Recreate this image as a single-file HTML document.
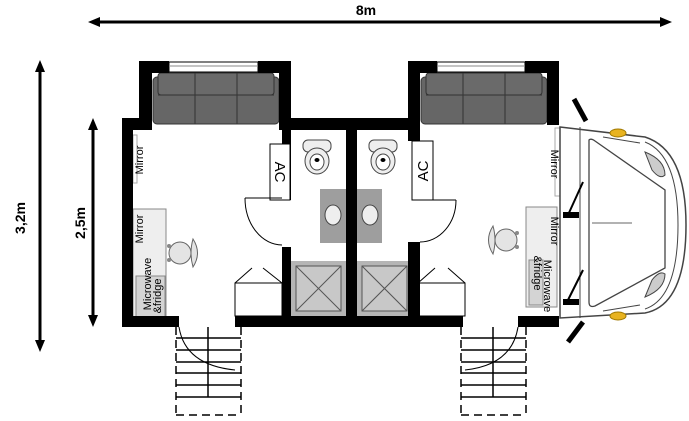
<!DOCTYPE html>
<html><head><meta charset="utf-8"><style>
html,body{margin:0;padding:0;background:#fff;}
svg{display:block;font-family:"Liberation Sans",Arial,sans-serif;}
</style></head><body>
<svg width="689" height="421" viewBox="0 0 689 421" xmlns="http://www.w3.org/2000/svg">
<defs>
<g id="sofa">
<rect x="0" y="4" width="126" height="47" rx="4" fill="#666" stroke="#333" stroke-width="1"/>
<rect x="5" y="0" width="116" height="22" rx="3" fill="#6a6a6a" stroke="#333"/>
<line x1="42" y1="0" x2="42" y2="51" stroke="#333"/><line x1="84" y1="0" x2="84" y2="51" stroke="#333"/>
<line x1="5" y1="22" x2="121" y2="22" stroke="#333"/>
</g>
<g id="toilet">
<rect x="-14" y="-17" width="28" height="12" rx="5" fill="#eee" stroke="#444"/>
<ellipse cx="0" cy="4" rx="12" ry="13" fill="#eee" stroke="#444"/>
<ellipse cx="0" cy="5" rx="7" ry="8" fill="#fff" stroke="#444"/>
<ellipse cx="0" cy="3" rx="2.5" ry="2" fill="#000"/>
</g>
<g id="shower">
<rect x="0" y="0" width="55" height="55" fill="#b5b5b5"/>
<rect x="5" y="5" width="45" height="45" fill="#c8c8c8" stroke="#555"/>
<line x1="5" y1="5" x2="50" y2="50" stroke="#555"/><line x1="50" y1="5" x2="5" y2="50" stroke="#555"/>
</g>
<g id="stairs" stroke="#000" stroke-width="1.5" fill="none">
<line x1="0" y1="11" x2="65" y2="11"/><line x1="0" y1="23" x2="65" y2="23"/>
<line x1="0" y1="35" x2="65" y2="35"/><line x1="0" y1="46" x2="65" y2="46"/>
<line x1="0" y1="58" x2="65" y2="58"/><line x1="0" y1="70" x2="65" y2="70"/>
<line x1="32" y1="0" x2="32" y2="70"/>
<line x1="0" y1="0" x2="0" y2="88" stroke-dasharray="8,5"/>
<line x1="65" y1="0" x2="65" y2="88" stroke-dasharray="8,5"/>
<line x1="0" y1="88" x2="65" y2="88" stroke-dasharray="8,5"/>
</g>
<g id="chair">
<circle cx="0" cy="0" r="11" fill="#e4e4e4" stroke="#666"/>
<path d="M13,-14 Q22,0 13,14 Q9,0 13,-14 Z" fill="#e4e4e4" stroke="#666"/>
<circle cx="-11" cy="-7" r="2" fill="#888"/><circle cx="-11" cy="7" r="2" fill="#888"/>
</g>
</defs>

<line x1="96" y1="22" x2="664" y2="22" stroke="#000" stroke-width="3"/>
<path d="M88,22 L100,17 L100,27Z M672,22 L660,17 L660,27Z" fill="#000"/>
<text x="366" y="15" font-size="14" font-weight="bold" text-anchor="middle">8m</text>
<line x1="40" y1="68" x2="40" y2="344" stroke="#000" stroke-width="3"/>
<path d="M40,60 L35,72 L45,72Z M40,352 L35,340 L45,340Z" fill="#000"/>
<text transform="translate(25,218) rotate(-90)" font-size="14" font-weight="bold" text-anchor="middle">3,2m</text>
<line x1="93" y1="126" x2="93" y2="319" stroke="#000" stroke-width="3"/>
<path d="M93,118 L88,130 L98,130Z M93,327 L88,315 L98,315Z" fill="#000"/>
<text transform="translate(85,223) rotate(-90)" font-size="14" font-weight="bold" text-anchor="middle">2,5m</text>

<rect x="133" y="209" width="33" height="109" fill="#eeeeee" stroke="#888"/>
<rect x="136" y="276" width="29" height="41" fill="#d4d4d4" stroke="#888"/>
<rect x="133" y="135" width="4" height="48" fill="#fff" stroke="#aaa"/>
<text transform="translate(143,160) rotate(-90)" font-size="11" text-anchor="middle">Mirror</text>
<text transform="translate(143,229) rotate(-90)" font-size="11" text-anchor="middle">Mirror</text>
<text transform="translate(151,284) rotate(-90)" font-size="11" text-anchor="middle">Microwave</text>
<text transform="translate(161,296) rotate(-90)" font-size="11" text-anchor="middle">&amp;fridge</text>
<use href="#chair" x="180" y="253"/>
<use href="#sofa" x="153" y="73"/>

<rect x="526" y="207" width="31" height="100" fill="#eeeeee" stroke="#888"/>
<rect x="529" y="260" width="14" height="45" fill="#d4d4d4" stroke="#888"/>
<rect x="555" y="128" width="5" height="68" fill="#fff" stroke="#aaa"/>
<text transform="translate(551,164) rotate(90)" font-size="11" text-anchor="middle">Mirror</text>
<text transform="translate(551,231) rotate(90)" font-size="11" text-anchor="middle">Mirror</text>
<text transform="translate(544,286) rotate(90)" font-size="11" text-anchor="middle">Microwave</text>
<text transform="translate(534,273) rotate(90)" font-size="11" text-anchor="middle">&amp;fridge</text>
<use href="#chair" transform="translate(506,240) scale(-1,1)"/>
<use href="#sofa" x="421" y="73"/>

<use href="#toilet" x="317" y="157"/>
<use href="#toilet" x="383" y="157"/>
<rect x="320" y="189" width="26" height="54" fill="#9e9e9e"/>
<rect x="357" y="189" width="25" height="54" fill="#9e9e9e"/>
<ellipse cx="333" cy="215" rx="8" ry="10" fill="#eee" stroke="#444"/>
<ellipse cx="370" cy="215" rx="8" ry="10" fill="#eee" stroke="#444"/>
<use href="#shower" x="291" y="261"/>
<use href="#shower" x="357" y="261"/>

<g fill="#000">
<rect x="122" y="118" width="30" height="12"/>
<rect x="122" y="118" width="11" height="209"/>
<rect x="139" y="61" width="13" height="69"/>
<rect x="139" y="61" width="30" height="12"/>
<rect x="258" y="61" width="33" height="12"/>
<rect x="279" y="61" width="12" height="69"/>
<rect x="279" y="118" width="141" height="12"/>
<rect x="122" y="316" width="57" height="11"/>
<rect x="235" y="316" width="228" height="11"/>
<rect x="518" y="316" width="41" height="11"/>
<rect x="282" y="118" width="9" height="82"/>
<rect x="282" y="247" width="9" height="80"/>
<rect x="346" y="118" width="11" height="209"/>
<rect x="408" y="61" width="12" height="80"/>
<rect x="408" y="242" width="12" height="85"/>
<rect x="408" y="61" width="29" height="12"/>
<rect x="525" y="61" width="34" height="12"/>
<rect x="547" y="61" width="12" height="64"/>
</g>
<rect x="169" y="62" width="89" height="10" fill="#fff" stroke="#000"/>
<line x1="169" y1="66" x2="258" y2="66" stroke="#888"/>
<rect x="437" y="62" width="88" height="10" fill="#fff" stroke="#000"/>
<line x1="437" y1="66" x2="525" y2="66" stroke="#888"/>

<rect x="270" y="144" width="20" height="56" fill="#fff" stroke="#000"/>
<text transform="translate(275,172) rotate(90)" font-size="15" text-anchor="middle">AC</text>
<rect x="412" y="141" width="21" height="59" fill="#fff" stroke="#000"/>
<text transform="translate(428,171) rotate(-90)" font-size="15" text-anchor="middle">AC</text>

<g fill="none" stroke="#000" stroke-width="1">
<path d="M245,198 L282,198 M245,198 A37,47 0 0 0 282,245"/>
<path d="M456,200 L420,200 M456,200 A36,42 0 0 1 420,242"/>
<path d="M235,283 L282,283 L282,316 L235,316 Z M235,283 L252,268 M282,283 L263,268"/>
<path d="M418,283 L465,283 L465,316 L418,316 Z M418,283 L435,268 M465,283 L448,268"/>
<path d="M179,327 Q185,365 235,370"/>
<path d="M518,327 Q512,365 465,370"/>
</g>
<use href="#stairs" x="176" y="327"/>
<use href="#stairs" x="461" y="327"/>

<rect x="562" y="136" width="16" height="74" fill="#999" stroke="#666"/>
<rect x="562" y="228" width="16" height="78" fill="#999" stroke="#666"/>
<path d="M560,127 L645,137 Q686,150 686,225 Q686,305 645,313 L560,318 Z" fill="#fff" stroke="#444" stroke-width="1.5"/>
<path d="M645,142 Q678,155 678,225 Q678,298 645,309" fill="none" stroke="#444"/>
<line x1="580" y1="127" x2="580" y2="318" stroke="#444"/>
<path d="M589,140 Q591,138 595,141 L665,190 L665,268 L595,306 Q589,308 589,302 Z" fill="#fff" stroke="#444" stroke-width="1.3"/>
<path d="M603,137 L640,143 M603,311 L640,305" stroke="#444"/>
<line x1="592" y1="223" x2="632" y2="223" stroke="#666"/>
<path d="M645,152 Q665,160 665,175 Q660,180 652,170 Z" fill="#ccc" stroke="#444"/>
<path d="M645,297 Q665,289 665,274 Q660,270 652,280 Z" fill="#ccc" stroke="#444"/>
<ellipse cx="618" cy="133" rx="8" ry="4" fill="#e8b320" stroke="#a07800"/>
<ellipse cx="618" cy="316" rx="8" ry="4" fill="#e8b320" stroke="#a07800"/>
<line x1="574" y1="99" x2="586" y2="121" stroke="#000" stroke-width="5"/>
<line x1="568" y1="342" x2="583" y2="322" stroke="#000" stroke-width="5"/>
<line x1="568" y1="215" x2="583" y2="182" stroke="#000" stroke-width="2"/>
<rect x="563" y="212" width="16" height="6" fill="#000"/>
<line x1="568" y1="300" x2="583" y2="270" stroke="#000" stroke-width="2"/>
<rect x="563" y="299" width="16" height="6" fill="#000"/>
</svg>
</body></html>
